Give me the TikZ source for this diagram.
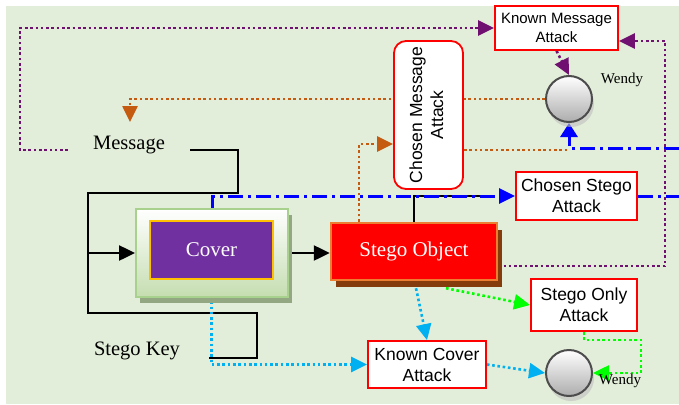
\documentclass[tikz,border=0pt]{standalone}
\usepackage{fontspec}
\setmainfont{Liberation Serif}
\newfontfamily\arialfont{Liberation Sans}
\usetikzlibrary{arrows.meta}
\definecolor{bgc}{HTML}{E2EED9}
\definecolor{covbd}{HTML}{A9D18E}
\definecolor{covbot}{HTML}{C5DDB0}
\definecolor{covsh}{HTML}{93A882}
\definecolor{purp}{HTML}{7030A0}
\definecolor{gold}{HTML}{FFC000}
\definecolor{stbd}{HTML}{ED7D31}
\definecolor{stsh}{HTML}{843C0C}
\definecolor{orl}{HTML}{C55A11}
\definecolor{pul}{HTML}{701070}
\definecolor{cyl}{HTML}{00B0F0}
\definecolor{grl}{HTML}{00FF00}
\pgfdeclarelayer{bg}
\pgfdeclarelayer{lines}
\pgfsetlayers{bg,lines,main}
\begin{document}
\begin{tikzpicture}[x=1pt,y=-1pt,
  atk/.style={draw=red, line width=1.8pt, fill=white, inner sep=0pt, align=center,
    font=\arialfont\fontsize{17.5}{21}\selectfont},
  blk/.style={line width=2.5pt, black},
  tip/.style={-{Triangle[length=16pt,width=15pt]}},
  dotl/.style={line width=2.6pt, dash pattern=on 2.6pt off 2.7pt},
  bl/.style={blue, line width=3pt, dash pattern=on 15pt off 5pt on 3pt off 5pt},
  ball/.style={circle, minimum size=46pt, inner sep=0pt, draw=gray!60!black,
    line width=2pt, top color=white, bottom color=gray!65},
  serif/.style={font=\fontsize{20.5}{24}\selectfont, inner sep=0pt},
  wlab/.style={font=\fontsize{15}{18}\selectfont, inner sep=0pt}]
\useasboundingbox (0,0) rectangle (679,404);
\begin{pgfonlayer}{bg}
  \fill[bgc] (6,6) rectangle (679,404);
\end{pgfonlayer}

% attack boxes
\node[atk, font=\arialfont\fontsize{15}{19}\selectfont, minimum width=123pt, minimum height=44pt] (km) at (556.5,28) {Known Message\\Attack};
\node[atk, rounded corners=12pt, minimum width=69pt, minimum height=148pt] (cm) at (428.5,115)
  {\rotatebox{90}{\begin{tabular}{@{}c@{}}Chosen Message\\Attack\end{tabular}}};
\node[atk, minimum width=121pt, minimum height=48pt] (cs) at (576.5,196) {Chosen Stego\\Attack};
\node[atk, minimum width=106pt, minimum height=52pt] (so) at (584,305) {Stego Only\\Attack};
\node[atk, minimum width=118pt, minimum height=47pt] (kc) at (427,364.5) {Known Cover\\Attack};

% cover block
\fill[covsh] (140,215) rectangle (292,303);
\node[draw=covbd, line width=2pt, top color=white, bottom color=covbot, minimum width=152pt,
  minimum height=88pt, inner sep=0pt] (cov) at (212,253) {};
\node[fill=purp, draw=gold, line width=2pt, minimum width=123pt, minimum height=58pt, inner sep=0pt,
  text=white, font=\fontsize{21}{25}\selectfont] (covin) at (211.5,250) {Cover};

% stego object
\fill[stsh] (336,230) rectangle (502,287);
\node[fill=red, draw=stbd, line width=2.5pt, minimum width=166pt, minimum height=57pt, inner sep=0pt,
  text=white, font=\fontsize{21}{25}\selectfont] (st) at (414,251.5) {Stego Object};

% wardens
\fill[gray!50, opacity=.6] (571,104) circle (23);
\fill[gray!50, opacity=.6] (571,378) circle (23);
\node[ball] (w1) at (569,99) {};
\node[ball] (w2) at (569,373) {};
\node[wlab] (wl1) at (622,80) {Wendy};
\node[wlab] (wl2) at (620,381) {Wendy};

% plain labels
\node[serif] (msg) at (129,145) {Message};
\node[serif] (key) at (137,351) {Stego Key};

\coordinate (msgR) at (190,150);
\coordinate (msgL) at (68,150);
\coordinate (msgT) at (130,122);
\coordinate (keyR) at (209,358);
\coordinate (jn) at (88,253);
\coordinate (eR1) at (679,196);
\coordinate (eR2) at (679,148);

\begin{pgfonlayer}{lines}
  % embedding paths
  \draw[blk] (msgR) -- (238,150) -- (238,193) -- (88,193) -- (88,313) -- (257,313) -- (257,358) -- (keyR);
  \draw[blk, tip] (jn) -- (jn -| cov.west);
  \draw[blk, tip] (cov.east |- jn) -- (st.west |- jn);
  \draw[blk] (st.north -| 414,0) -- (414,196) -- (480,196);

  % chosen stego path
  \draw[bl, tip] (cov.north) |- (cs.west);
  \draw[bl] (cs.east) -- (eR1);
  \draw[bl, -{Triangle[length=14pt,width=17pt]}] (eR2) -| (w1.south);

  % chosen message paths
  \draw[orl, dotl, tip] (w1.west) -| (msgT);
  \draw[orl, dotl, tip] (st.north -| 359,0) |- (cm.west |- 0,144);
  \draw[orl, dotl] (cm.east |- 0,150) -- (w1.south |- 0,150);

  % known message paths
  \draw[pul, dotl, tip] (msgL) -- (20,150) |- (km.west);
  \draw[pul, dotl, tip] (st.east |- 0,266) -| (665,41) -- (km.east |- 0,41);
  \draw[pul, dotl, tip] (km.south) -- (w1.north);

  % known cover paths
  \draw[cyl, dotl, tip] (covin.south) |- (kc.west);
  \draw[cyl, dotl, tip] ([shift={(2,7)}]st.south) -- (kc.north);
  \draw[cyl, dotl, tip] (kc.east) -- (w2.west);

  % stego only paths
  \draw[grl, dotl, tip] ([shift={(32,7)}]st.south) -- (so.west);
  \draw[grl, dotl, tip] (so.south) |- (641,340) |- (w2.east);
\end{pgfonlayer}
\end{tikzpicture}
\end{document}
